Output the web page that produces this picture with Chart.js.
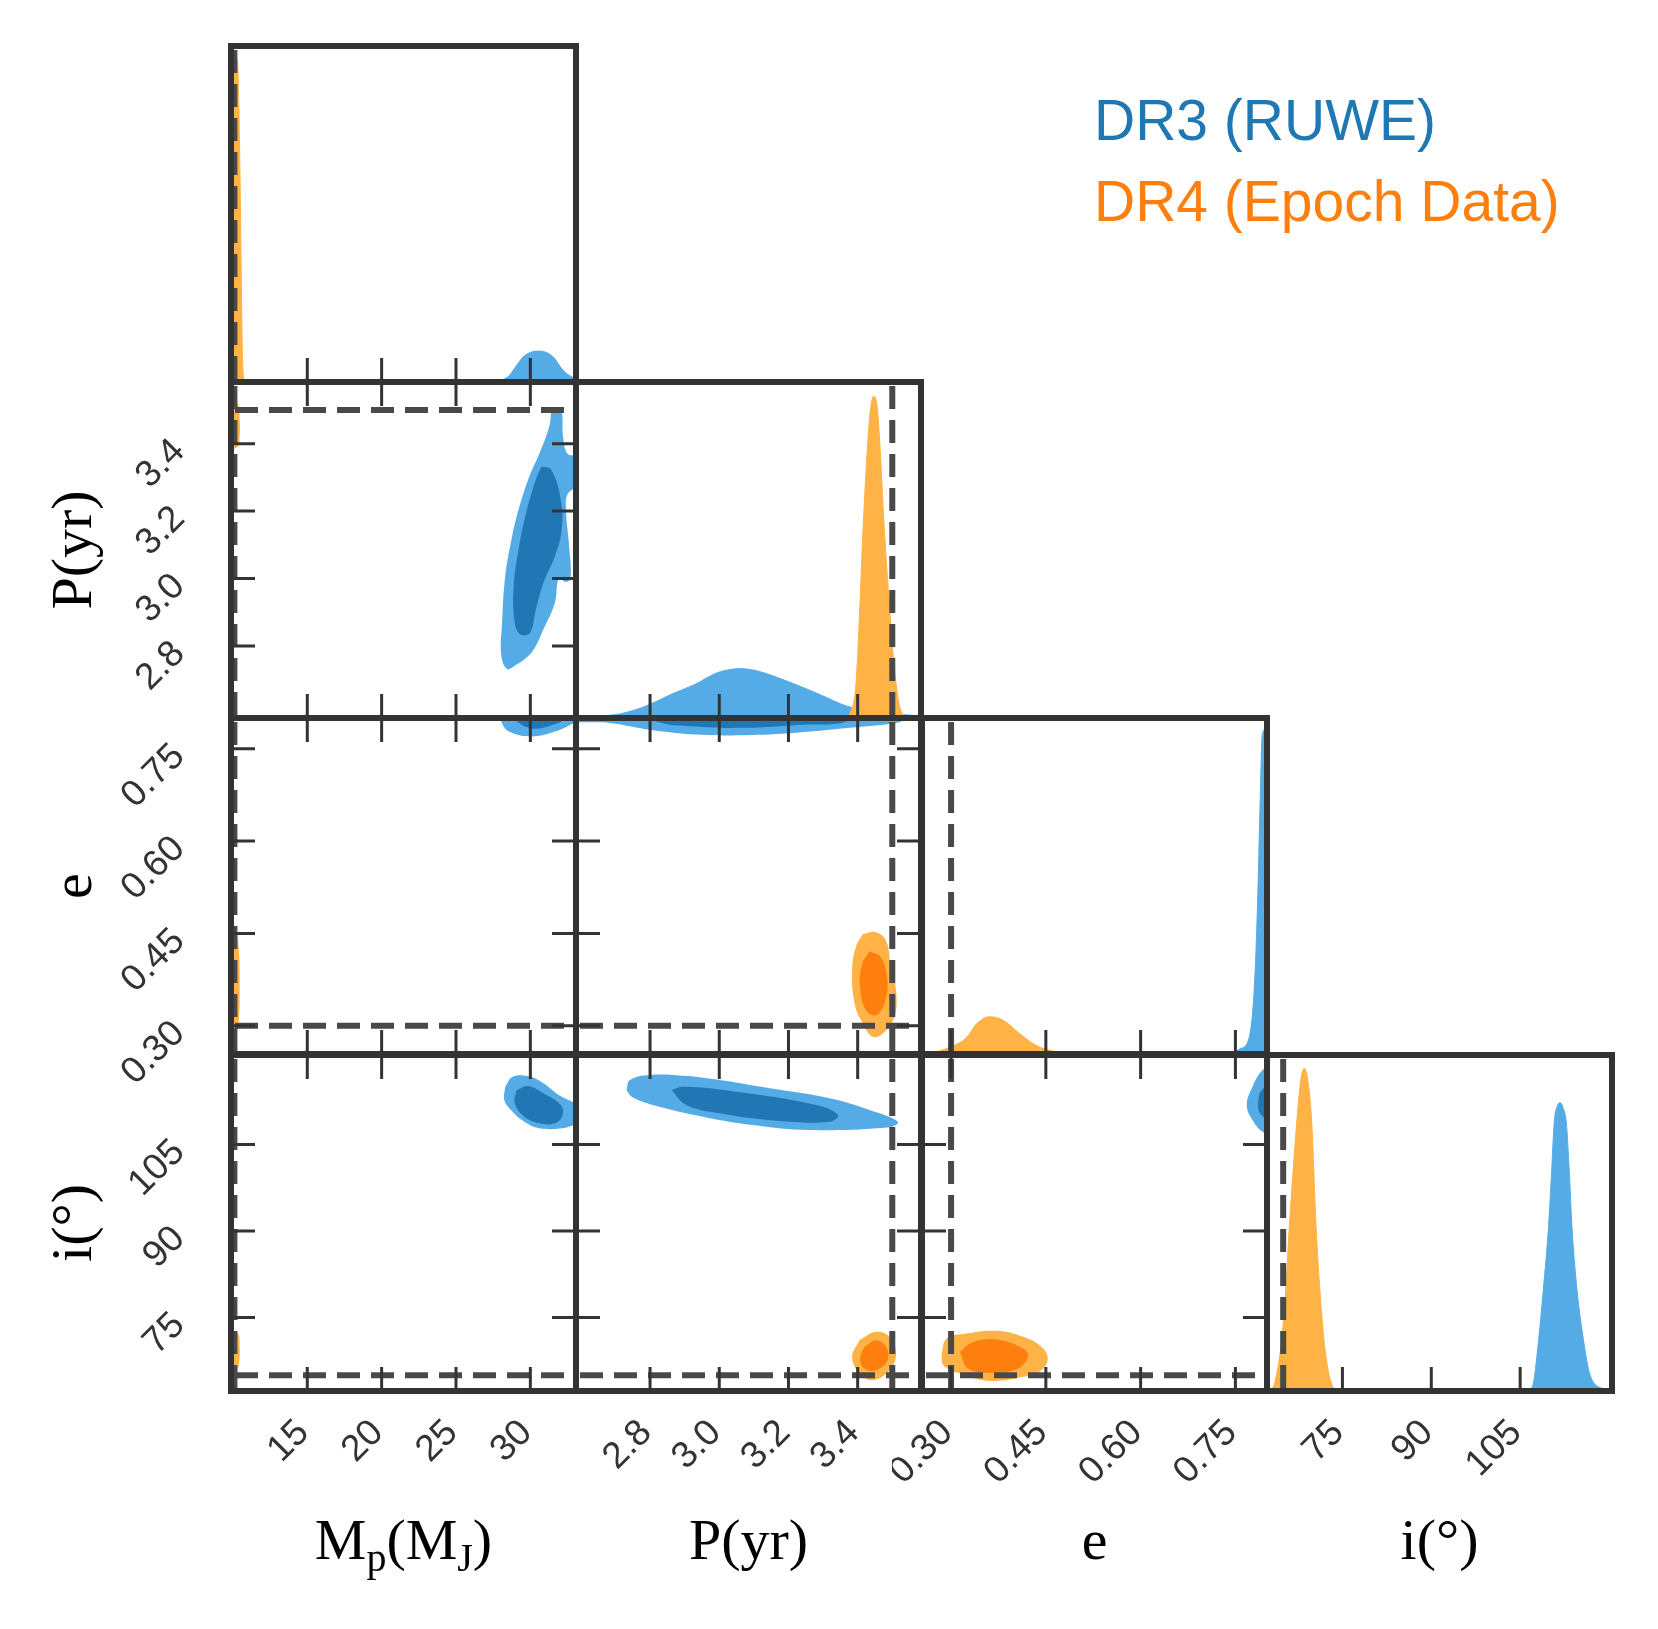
<!DOCTYPE html>
<html>
<head>
<meta charset="utf-8">
<script src="https://cdn.jsdelivr.net/npm/chart.js@4.4.1/dist/chart.umd.min.js"></script>
<style>
  body { margin: 0; background: #fff; }
  #fig { position: relative; width: 1658px; height: 1629px; overflow: hidden; background: #fff; }
  #fig canvas { position: absolute; }
  .ttl { position: absolute; font-family: "Liberation Serif", "Times New Roman", serif; font-size: 58px; line-height: 58px; color: #000; text-align: center; white-space: nowrap; }
  .ttl .sb { font-size: 40px; position: relative; top: 12px; }
  .leg { position: absolute; font-family: "Liberation Sans", Arial, sans-serif; font-size: 57px; line-height: 58px; white-space: nowrap; }
</style>
</head>
<body>
<div id="fig"></div>
<script>
// axis limits and ticks
const mpRange = [9.87, 33.07];
const pRange = [2.586, 3.583];
const eRange = [0.254, 0.800];
const iRange = [62.27, 120.5];
const mpTicks = [15, 20, 25, 30];
const pTicks = [2.8, 3.0, 3.2, 3.4];
const eTicks = [0.30, 0.45, 0.60, 0.75];
const iTicks = [75, 90, 105];
const mpTickLabels = ['15', '20', '25', '30'];
const pTickLabels = ['2.8', '3.0', '3.2', '3.4'];
const eTickLabels = ['0.30', '0.45', '0.60', '0.75'];
const iTickLabels = ['75', '90', '105'];
const truthValues = [10.1, 3.5, 0.30, 65.0];
const seriesNames = ['DR3 (RUWE)', 'DR4 (Epoch Data)'];

// 1D marginal densities (relative height), [value, density]
const dr3MpKde = [[26.5,0],[27.5,0.003],[28.2,0.008],[28.6,0.02],[29.08,0.05],[29.5,0.074],[30.0,0.088],[30.54,0.092],[31.0,0.089],[31.55,0.074],[32.2,0.035],[32.8,0.015],[33.07,0.01]];
const dr4MpKde = [[9.87,0.965],[10.1,0.968],[10.3,0.955],[10.4,0.82],[10.48,0.6],[10.55,0.35],[10.62,0.12],[10.7,0.02],[10.8,0]];
const dr3PKde = [[2.586,0.003],[2.7,0.01],[2.76,0.025],[2.82,0.05],[2.86,0.07],[2.93,0.1],[2.99,0.133],[3.03,0.144],[3.06,0.147],[3.11,0.14],[3.19,0.112],[3.29,0.07],[3.37,0.035],[3.45,0.018],[3.583,0.006]];
const dr4PKde = [[3.36,0],[3.38,0.02],[3.395,0.1],[3.405,0.3],[3.415,0.55],[3.425,0.75],[3.435,0.9],[3.446,0.957],[3.456,0.93],[3.465,0.8],[3.475,0.6],[3.49,0.36],[3.505,0.16],[3.52,0.04],[3.54,0]];
const dr3EKde = [[0.72,0],[0.745,0.004],[0.757,0.015],[0.772,0.05],[0.78,0.2],[0.785,0.445],[0.789,0.74],[0.7925,0.95],[0.8,0.97]];
const dr4EKde = [[0.254,0.001],[0.267,0.003],[0.298,0.02],[0.325,0.05],[0.34,0.089],[0.361,0.111],[0.382,0.101],[0.409,0.06],[0.435,0.025],[0.467,0.006],[0.48,0]];
const dr3IKde = [[106.7,0],[107.3,0.03],[108.1,0.15],[108.9,0.3],[109.79,0.49],[110.3,0.65],[110.75,0.8],[111.3,0.85],[111.76,0.858],[112.3,0.84],[112.8,0.797],[113.3,0.65],[113.74,0.49],[114.6,0.3],[115.7,0.15],[116.6,0.06],[117.4,0.025],[118.5,0.01],[120.5,0.004]];
const dr4IKde = [[62.7,0],[63.5,0.02],[64.2,0.08],[64.75,0.15],[65.5,0.32],[66.04,0.49],[66.7,0.66],[67.29,0.8],[68.0,0.93],[68.57,0.96],[69.2,0.92],[69.82,0.8],[70.55,0.49],[71.2,0.3],[71.9,0.15],[72.6,0.06],[73.2,0.02],[73.8,0]];

// 2D credible contours, [x, y] outlines
const dr3MpPOuter = [[31.4,3.495],[32.04,3.502],[32.2,3.42],[32.5,3.37],[33.2,3.36],[33.2,3.28],[32.5,3.25],[32.4,3.2],[32.6,3.1],[32.7,3.0],[32.37,2.99],[31.91,3.0],[31.65,2.928],[30.88,2.849],[30.24,2.79],[29.6,2.76],[28.95,2.741],[28.44,2.731],[28.05,2.77],[28.1,2.869],[28.31,3.007],[28.69,3.106],[29.08,3.184],[29.85,3.293],[30.62,3.372],[31.27,3.451]];
const dr3MpPInner = [[30.75,3.332],[31.4,3.323],[32.04,3.234],[32.11,3.145],[31.65,3.066],[30.88,2.987],[30.37,2.908],[29.98,2.839],[29.34,2.834],[28.95,2.869],[28.88,2.977],[29.21,3.086],[29.72,3.195],[30.37,3.293]];
const dr4MpPOuter = [[9.6,3.52],[10.3,3.52],[10.45,3.47],[10.45,3.42],[10.3,3.39],[9.6,3.39]];
const dr3MpEOuter = [[27.9,0.815],[28.05,0.7945],[28.57,0.778],[30.11,0.77],[31.65,0.778],[32.94,0.792],[33.5,0.80],[33.5,0.815]];
const dr3MpEInner = [[28.8,0.815],[29.0,0.797],[30.11,0.783],[31.4,0.788],[32.2,0.797],[32.4,0.815]];
const dr4MpEOuter = [[9.6,0.455],[10.2,0.45],[10.4,0.42],[10.45,0.37],[10.4,0.31],[10.2,0.29],[9.6,0.29]];
const dr3MpIOuter = [[28.31,115.0],[28.82,116.74],[29.98,116.74],[30.88,115.6],[31.91,113.56],[32.81,112.4],[33.3,111.8],[33.3,108.5],[32.94,108.36],[32.17,107.8],[30.62,107.8],[29.6,108.93],[28.69,110.96],[28.25,112.7]];
const dr3MpIInner = [[29.08,114.43],[29.85,115.13],[30.88,113.86],[32.04,111.83],[32.17,110.1],[31.65,108.66],[30.62,108.66],[29.6,109.8],[28.95,112.13]];
const dr4MpIOuter = [[9.6,72.5],[10.3,72.4],[10.45,70],[10.4,67],[10.2,65.6],[9.6,65.6]];
const dr3PEOuter = [[2.55,0.815],[2.55,0.797],[2.684,0.792],[2.80,0.781],[2.934,0.773],[3.068,0.772],[3.223,0.776],[3.376,0.784],[3.511,0.792],[3.53,0.797],[3.53,0.815]];
const dr3PEInner = [[2.8,0.815],[2.809,0.796],[2.934,0.786],[3.068,0.784],[3.242,0.789],[3.367,0.7945],[3.38,0.815]];
const dr4PEOuter = [[3.415,0.449],[3.453,0.452],[3.482,0.438],[3.496,0.395],[3.511,0.357],[3.506,0.314],[3.472,0.287],[3.443,0.282],[3.415,0.303],[3.391,0.336],[3.384,0.39],[3.395,0.428]];
const dr4PEInner = [[3.434,0.421],[3.467,0.411],[3.486,0.373],[3.477,0.336],[3.453,0.317],[3.424,0.325],[3.407,0.363],[3.413,0.40]];
const dr3PIOuter = [[2.732,114.43],[2.742,116.16],[2.80,117.03],[2.905,116.86],[3.001,116.16],[3.146,114.72],[3.319,112.99],[3.434,110.96],[3.516,108.93],[3.492,107.96],[3.261,107.5],[3.097,108.36],[2.953,109.8],[2.809,111.83],[2.747,113.27]];
const dr3PIInner = [[2.862,114.43],[2.896,115.0],[3.049,114.14],[3.28,111.83],[3.343,110.1],[3.319,108.93],[3.165,109.1],[3.001,110.39],[2.905,111.83]];
const dr4PIOuter = [[3.405,71.08],[3.453,72.52],[3.492,71.66],[3.511,68.77],[3.492,65.88],[3.443,64.15],[3.405,65.3],[3.384,68.19]];
const dr4PIInner = [[3.419,69.92],[3.453,71.08],[3.482,69.92],[3.486,67.61],[3.453,65.88],[3.419,66.17],[3.407,67.9]];
const dr3EIOuter = [[0.81,118.5],[0.793,117.9],[0.777,115.0],[0.768,111.83],[0.777,109.23],[0.793,107.2],[0.81,106.8]];
const dr3EIInner = [[0.81,115.5],[0.793,114.6],[0.786,112.5],[0.79,110.2],[0.81,109.3]];
const dr4EIOuter = [[0.285,68.77],[0.293,71.37],[0.325,72.24],[0.372,72.69],[0.414,71.66],[0.443,69.92],[0.453,67.9],[0.443,65.88],[0.414,64.72],[0.361,64.02],[0.314,65.3],[0.288,66.75]];
const dr4EIInner = [[0.314,69.05],[0.335,70.77],[0.372,71.2],[0.409,69.92],[0.422,68.48],[0.406,66.17],[0.361,65.41],[0.327,66.17]];

const ranges = [mpRange, pRange, eRange, iRange];
const tickValues = [mpTicks, pTicks, eTicks, iTicks];
const tickLabels = [mpTickLabels, pTickLabels, eTickLabels, iTickLabels];

// colours
const blueLight = '#55abe5', blueDark = '#2077b4';
const orangeLight = '#ffb245', orangeDark = '#ff7f0e';
const frameColor = '#333333';

// layout of the grid (px)
const colLeft = [231, 576, 922, 1267];
const rowTop = [46, 382, 718, 1055];
const panelW = 345, panelH = 336;

const sansFont = '"Liberation Sans", Arial, Helvetica, sans-serif';

function kde(pts, color) {
  return {
    data: pts.map(p => ({x: p[0], y: p[1]})),
    fill: 'origin', backgroundColor: color, borderColor: color, borderWidth: 1,
    cubicInterpolationMode: 'monotone', pointRadius: 0
  };
}
function blob(pts, color) {
  const d = pts.concat([pts[0]]).map(p => ({x: p[0], y: p[1]}));
  return {
    data: d, fill: 'shape', backgroundColor: color, borderColor: color, borderWidth: 0,
    tension: 0.4, pointRadius: 0
  };
}

// datasets per panel, listed bottom to top
const panelSets = {
  '00': [kde(dr3MpKde, blueLight), kde(dr4MpKde, orangeLight)],
  '11': [kde(dr3PKde, blueLight), kde(dr4PKde, orangeLight)],
  '22': [kde(dr4EKde, orangeLight), kde(dr3EKde, blueLight)],
  '33': [kde(dr4IKde, orangeLight), kde(dr3IKde, blueLight)],
  '10': [blob(dr3MpPOuter, blueLight), blob(dr3MpPInner, blueDark), blob(dr4MpPOuter, orangeLight)],
  '20': [blob(dr3MpEOuter, blueLight), blob(dr3MpEInner, blueDark), blob(dr4MpEOuter, orangeLight)],
  '30': [blob(dr3MpIOuter, blueLight), blob(dr3MpIInner, blueDark), blob(dr4MpIOuter, orangeLight)],
  '21': [blob(dr3PEOuter, blueLight), blob(dr3PEInner, blueDark), blob(dr4PEOuter, orangeLight), blob(dr4PEInner, orangeDark)],
  '31': [blob(dr3PIOuter, blueLight), blob(dr3PIInner, blueDark), blob(dr4PIOuter, orangeLight), blob(dr4PIInner, orangeDark)],
  '32': [blob(dr4EIOuter, orangeLight), blob(dr4EIInner, orangeDark), blob(dr3EIOuter, blueLight), blob(dr3EIInner, blueDark)]
};

// truth lines, inward ticks, frame and tick labels
function cornerDecor(r, c) {
  return {
    id: 'cornerDecor',
    afterDatasetsDraw(chart) {
      const ctx = chart.ctx, a = chart.chartArea;
      const xs = chart.scales.x, ys = chart.scales.y;
      const diag = r === c;

      ctx.save();
      ctx.beginPath();
      ctx.rect(a.left, a.top, a.right - a.left, a.bottom - a.top);
      ctx.clip();
      ctx.strokeStyle = '#494949';
      ctx.lineWidth = 6;
      ctx.setLineDash([23, 11]);
      const tx = xs.getPixelForValue(truthValues[c]);
      ctx.beginPath();
      ctx.moveTo(tx, a.top + 4);
      ctx.lineTo(tx, a.bottom);
      ctx.stroke();
      if (!diag) {
        const ty = ys.getPixelForValue(truthValues[r]);
        ctx.beginPath();
        ctx.moveTo(a.left + 4, ty);
        ctx.lineTo(a.right, ty);
        ctx.stroke();
      }
      ctx.restore();

      ctx.save();
      ctx.strokeStyle = frameColor;
      ctx.lineWidth = 3;
      ctx.beginPath();
      tickValues[c].forEach(t => {
        const px = xs.getPixelForValue(t);
        ctx.moveTo(px, a.bottom);
        ctx.lineTo(px, a.bottom - 24);
        if (!diag) {
          ctx.moveTo(px, a.top);
          ctx.lineTo(px, a.top + 24);
        }
      });
      if (!diag) {
        tickValues[r].forEach(t => {
          const py = ys.getPixelForValue(t);
          ctx.moveTo(a.left, py);
          ctx.lineTo(a.left + 24, py);
          ctx.moveTo(a.right, py);
          ctx.lineTo(a.right - 24, py);
        });
      }
      ctx.stroke();
      ctx.lineWidth = 6;
      ctx.strokeRect(a.left, a.top, a.right - a.left, a.bottom - a.top);

      ctx.fillStyle = frameColor;
      ctx.font = '37px ' + sansFont;
      ctx.textAlign = 'right';
      ctx.textBaseline = 'middle';
      if (r === 3) {
        tickValues[c].forEach((t, k) => {
          ctx.save();
          ctx.translate(xs.getPixelForValue(t) - 4, a.bottom + 36);
          ctx.rotate(-Math.PI / 4);
          ctx.fillText(tickLabels[c][k], 0, 0);
          ctx.restore();
        });
      }
      if (c === 0 && r > 0) {
        tickValues[r].forEach((t, k) => {
          ctx.save();
          ctx.translate(a.left - 52, ys.getPixelForValue(t) + 2);
          ctx.rotate(-Math.PI / 4);
          ctx.fillText(tickLabels[r][k], 0, 0);
          ctx.restore();
        });
      }
      ctx.restore();
    }
  };
}

const fig = document.getElementById('fig');

function makePanel(r, c) {
  const padL = c === 0 ? 200 : 30, padR = 30, padT = 30, padB = r === 3 ? 120 : 30;
  const cv = document.createElement('canvas');
  cv.width = padL + panelW + padR;
  cv.height = padT + panelH + padB;
  cv.style.left = (colLeft[c] - padL) + 'px';
  cv.style.top = (rowTop[r] - padT) + 'px';
  fig.appendChild(cv);
  const diag = r === c;
  // Chart.js paints dataset 0 last, so hand them over top-first
  const sets = panelSets['' + r + c].slice().reverse();
  new Chart(cv, {
    type: 'line',
    data: {datasets: sets},
    options: {
      responsive: false,
      animation: false,
      devicePixelRatio: 1,
      layout: {padding: {left: padL, right: padR, top: padT, bottom: padB}},
      plugins: {legend: {display: false}, tooltip: {enabled: false}},
      scales: {
        x: {type: 'linear', min: ranges[c][0], max: ranges[c][1], display: false},
        y: {type: 'linear', min: diag ? 0 : ranges[r][0], max: diag ? 1 : ranges[r][1], display: false}
      }
    },
    plugins: [cornerDecor(r, c)]
  });
}

for (let r = 0; r < 4; r++) {
  for (let c = 0; c <= r; c++) makePanel(r, c);
}

// axis titles
const xTitles = ['M<span class="sb">p</span>(M<span class="sb">J</span>)', 'P(yr)', 'e', 'i(°)'];
const yTitles = ['P(yr)', 'e', 'i(°)'];
xTitles.forEach((t, c) => {
  const d = document.createElement('div');
  d.className = 'ttl';
  d.innerHTML = t;
  d.style.left = colLeft[c] + 'px';
  d.style.width = panelW + 'px';
  d.style.top = '1511px';
  fig.appendChild(d);
});
yTitles.forEach((t, k) => {
  const r = k + 1;
  const d = document.createElement('div');
  d.className = 'ttl';
  d.textContent = t;
  d.style.width = '300px';
  d.style.left = (72 - 150) + 'px';
  d.style.top = (rowTop[r] + panelH / 2 - 29) + 'px';
  d.style.transform = 'rotate(-90deg)';
  fig.appendChild(d);
});

// legend text
['#1f77b4', '#ff7f0e'].forEach((col, k) => {
  const d = document.createElement('div');
  d.className = 'leg';
  d.textContent = seriesNames[k];
  d.style.color = col;
  d.style.left = '1094px';
  d.style.top = (91 + 81 * k) + 'px';
  fig.appendChild(d);
});
</script>
</body>
</html>
